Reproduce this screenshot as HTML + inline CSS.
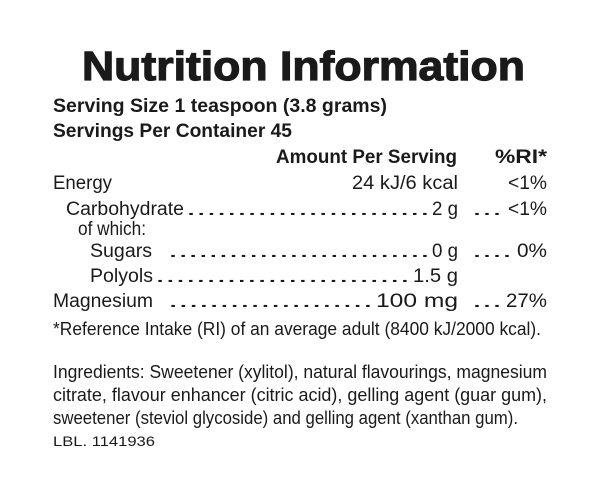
<!DOCTYPE html>
<html><head><style>body{margin:0;background:#fff}svg{display:block}</style></head><body>
<svg width="600" height="498" xmlns="http://www.w3.org/2000/svg" font-family="Liberation Sans, sans-serif" fill="#1a1a1a">
<rect width="600" height="498" fill="#fff"/>
<text x="82" y="80" font-size="41" font-weight="bold" textLength="443" lengthAdjust="spacingAndGlyphs" stroke="#1a1a1a" stroke-width="1.2">Nutrition Information</text>
<g font-weight="bold" font-size="19">
<text x="53" y="112" textLength="334" lengthAdjust="spacingAndGlyphs">Serving Size 1 teaspoon (3.8 grams)</text>
<text x="53" y="137" textLength="239" lengthAdjust="spacingAndGlyphs">Servings Per Container 45</text>
<text x="276" y="163" textLength="181" lengthAdjust="spacingAndGlyphs">Amount Per Serving</text>
<text x="495" y="163" textLength="52" lengthAdjust="spacingAndGlyphs">%RI*</text>
</g>
<g font-size="19">
<text x="53" y="189" textLength="59" lengthAdjust="spacingAndGlyphs">Energy</text>
<text x="352" y="189" textLength="106" lengthAdjust="spacingAndGlyphs">24 kJ/6 kcal</text>
<text x="508" y="189" textLength="39" lengthAdjust="spacingAndGlyphs">&lt;1%</text>
<text x="66" y="215" textLength="118" lengthAdjust="spacingAndGlyphs">Carbohydrate</text>
<text x="186" y="215" textLength="244" lengthAdjust="spacingAndGlyphs">........................</text>
<text x="432" y="215" textLength="26" lengthAdjust="spacingAndGlyphs">2 g</text>
<text x="472" y="215" textLength="30" lengthAdjust="spacingAndGlyphs">...</text>
<text x="508" y="215" textLength="39" lengthAdjust="spacingAndGlyphs">&lt;1%</text>
<text x="78" y="235" textLength="68" lengthAdjust="spacingAndGlyphs">of which:</text>
<text x="90" y="257" textLength="62" lengthAdjust="spacingAndGlyphs">Sugars</text>
<text x="168" y="257" textLength="262" lengthAdjust="spacingAndGlyphs">..........................</text>
<text x="432" y="257" textLength="26" lengthAdjust="spacingAndGlyphs">0 g</text>
<text x="472" y="257" textLength="40" lengthAdjust="spacingAndGlyphs">....</text>
<text x="517" y="257" textLength="30" lengthAdjust="spacingAndGlyphs">0%</text>
<text x="90" y="282" textLength="63" lengthAdjust="spacingAndGlyphs">Polyols</text>
<text x="155" y="282" textLength="255" lengthAdjust="spacingAndGlyphs">.........................</text>
<text x="413" y="282" textLength="45" lengthAdjust="spacingAndGlyphs">1.5 g</text>
<text x="53" y="307" textLength="100" lengthAdjust="spacingAndGlyphs">Magnesium</text>
<text x="168" y="307" textLength="205" lengthAdjust="spacingAndGlyphs">....................</text>
<text x="376" y="307" textLength="82" lengthAdjust="spacingAndGlyphs">100 mg</text>
<text x="472" y="307" textLength="30" lengthAdjust="spacingAndGlyphs">...</text>
<text x="506" y="307" textLength="41" lengthAdjust="spacingAndGlyphs">27%</text>
</g>
<g font-size="18">
<text x="53" y="335" textLength="488" lengthAdjust="spacingAndGlyphs">*Reference Intake (RI) of an average adult (8400 kJ/2000 kcal).</text>
<text x="53" y="378" textLength="494" lengthAdjust="spacingAndGlyphs">Ingredients: Sweetener (xylitol), natural flavourings, magnesium</text>
<text x="53" y="401" textLength="494" lengthAdjust="spacingAndGlyphs">citrate, flavour enhancer (citric acid), gelling agent (guar gum),</text>
<text x="53" y="424" textLength="465" lengthAdjust="spacingAndGlyphs">sweetener (steviol glycoside) and gelling agent (xanthan gum).</text>
</g>
<text x="53" y="446" font-size="14" textLength="102" lengthAdjust="spacingAndGlyphs">LBL. 1141936</text>
</svg>
</body></html>
